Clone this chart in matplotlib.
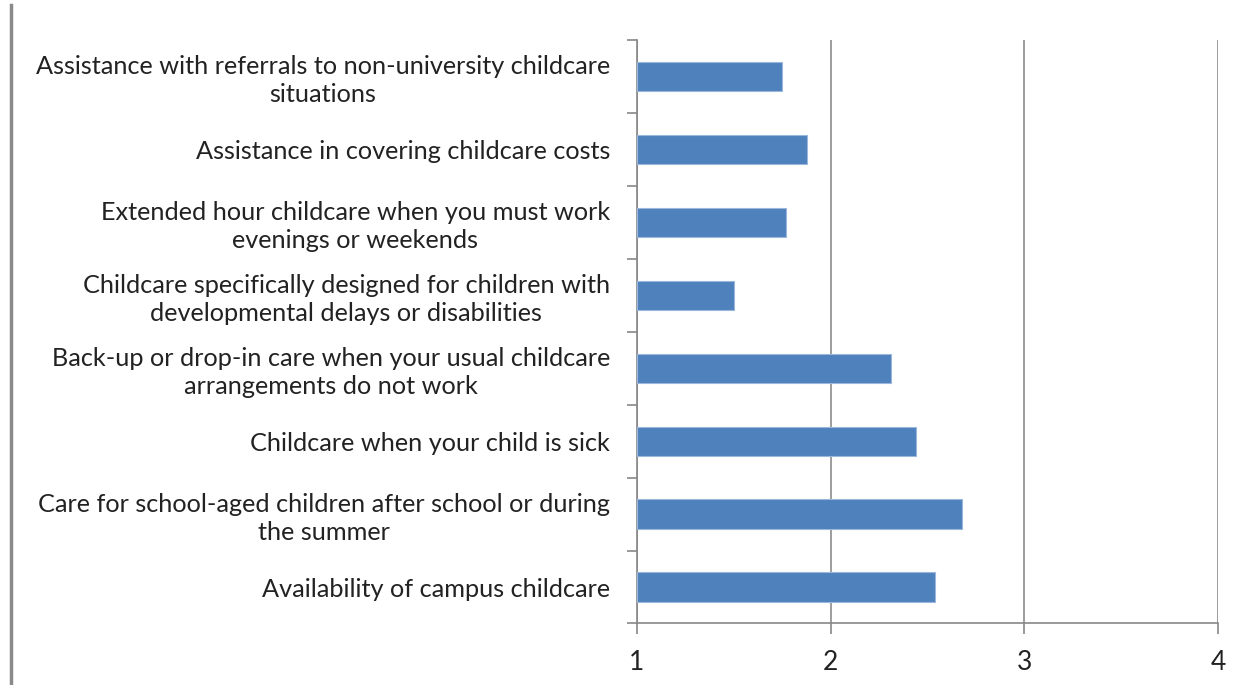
import matplotlib.pyplot as plt
from matplotlib.lines import Line2D

# bottom to top, as drawn
categories = [
    'Availability of campus childcare',
    'Care for school-aged children after school or during\nthe summer',
    'Childcare when your child is sick',
    'Back-up or drop-in care when your usual childcare\narrangements do not work',
    'Childcare specifically designed for children with\ndevelopmental delays or disabilities',
    'Extended hour childcare when you must work\nevenings or weekends',
    'Assistance in covering childcare costs',
    'Assistance with referrals to non-university childcare\nsituations',
]
scores = [2.54, 2.68, 2.44, 2.31, 1.50, 1.77, 1.88, 1.75]
x_ticks = [1, 2, 3, 4]

plt.rcParams['font.family'] = ['Lato', 'DejaVu Sans']

fig = plt.figure(figsize=(12.5, 6.85), dpi=100)
ax = fig.add_axes([0.5096, 0.0898, 0.4648, 0.852])

ypos = list(range(len(categories)))
ax.barh(ypos, [s - 1 for s in scores], left=1, height=0.4,
        color='#4F81BD', edgecolor='#9BB7DA', linewidth=0.8, zorder=3)

ax.set_xlim(1, 4)
ax.set_ylim(-0.5, len(categories) - 0.5)
ax.set_xticks(x_ticks)
ax.set_xticklabels([str(t) for t in x_ticks], fontsize=19, color='#222222')

# category ticks sit on the boundaries between bars
ax.set_yticks([i - 0.5 for i in range(len(categories) + 1)], minor=False)
ax.set_yticklabels([])
ax.set_yticks(ypos, minor=True)
ax.set_yticklabels(categories, minor=True, fontsize=18.2, color='#222222',
                   multialignment='center', linespacing=1.26)
ax.tick_params(axis='y', which='minor', length=0, pad=19.5)
ax.tick_params(axis='y', which='major', length=7.5, width=1.2, color='#888888')
ax.tick_params(axis='x', length=8, width=1.2, color='#888888', pad=11)

ax.grid(axis='x', color='#8c8c8c', linewidth=1.2, zorder=0)
for side in ['top', 'right']:
    ax.spines[side].set_visible(False)
for side in ['left', 'bottom']:
    ax.spines[side].set_color('#888888')
    ax.spines[side].set_linewidth(1.2)

# frame edge on the left of the figure
fig.add_artist(Line2D([0.0085, 0.0085], [0.0, 0.993], color='#8a8a8a',
                      linewidth=2.5, transform=fig.transFigure))

fig.savefig('out.png', dpi=100)
